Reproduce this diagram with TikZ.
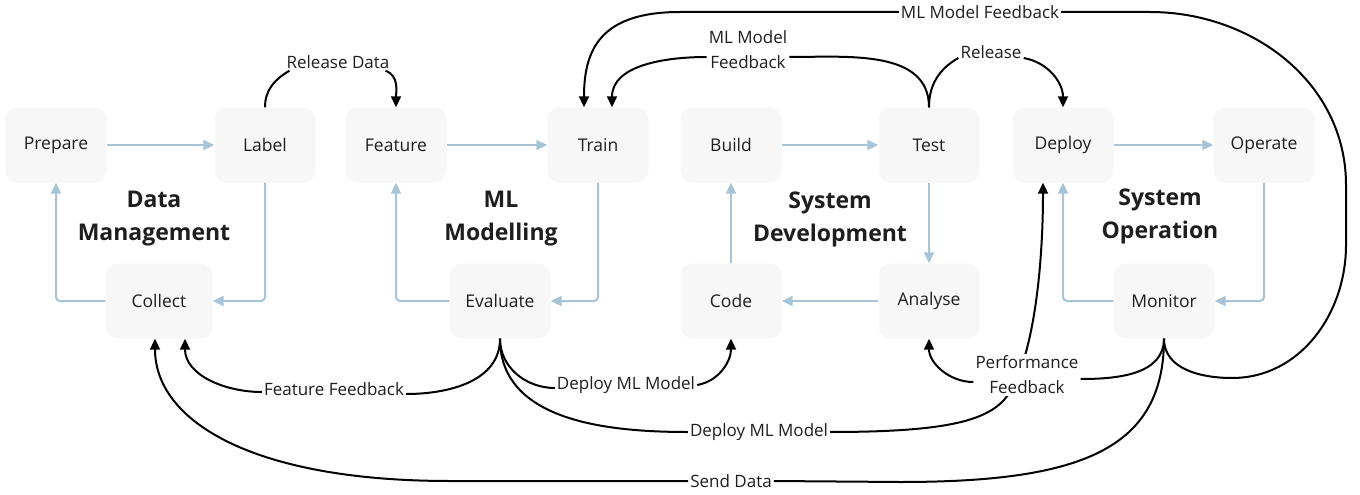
\documentclass[tikz,border=0pt]{standalone}
\usepackage{fontspec}
\setmainfont{Open Sans}
\usetikzlibrary{arrows.meta}
\pgfdeclarelayer{background}
\pgfsetlayers{background,main}
\definecolor{boxfill}{HTML}{F7F7F7}
\definecolor{flowc}{HTML}{A7C4D8}
\definecolor{txt}{HTML}{1E1E1E}
\begin{document}
\begin{tikzpicture}[x=1pt,y=-1pt,
 box/.style={rectangle, rounded corners=12pt, fill=boxfill, minimum width=101pt, minimum height=75pt, inner sep=0pt, text=txt, font=\fontsize{17.5}{20}\selectfont},
 title/.style={align=center, font=\fontsize{23}{33}\selectfont\bfseries, text=txt},
 lbl/.style={align=center, fill=white, inner sep=2pt, font=\fontsize{17}{25}\selectfont, text=txt},
 flow/.style={draw=flowc, line width=2pt, rounded corners=4pt, -{Triangle[length=11pt,width=10pt]}},
 fb/.style={draw=black, line width=2pt},
 fba/.style={fb, -{Triangle[length=11pt,width=10pt]}}]
\useasboundingbox (0,0) rectangle (1360,495);
\begin{pgfonlayer}{background}
\fill[white] (0,0) rectangle (1360,495);
\end{pgfonlayer}

% boxes
\node[box] (prepare) at (56,145) {Prepare};
\node[box] (label) at (265,145) {Label};
\node[box, minimum width=107pt] (collect) at (159,301) {Collect};
\node[box] (feature) at (396,145) {Feature};
\node[box] (train) at (598,145) {Train};
\node[box] (evaluate) at (500,301) {Evaluate};
\node[box] (build) at (731,145) {Build};
\node[box] (test) at (929,145) {Test};
\node[box] (code) at (731,301) {Code};
\node[box] (analyse) at (929,301) {Analyse};
\node[box] (deploy) at (1063,145) {Deploy};
\node[box] (operate) at (1264,145) {Operate};
\node[box] (monitor) at (1164,301) {Monitor};

% titles
\node[title] (t1) at (154,219) {Data\\Management};
\node[title] (t2) at (501,219) {ML\\Modelling};
\node[title] (t3) at (830,219) {System\\Development};
\node[title] (t4) at (1160,216) {System\\Operation};

% blue cycles
\draw[flow] (prepare.east) -- (label.west);
\draw[flow] (label.south) |- (collect.east);
\draw[flow] (collect.west) -| (prepare.south);
\draw[flow] (feature.east) -- (train.west);
\draw[flow] (train.south) |- (evaluate.east);
\draw[flow] (evaluate.west) -| (feature.south);
\draw[flow] (build.east) -- (test.west);
\draw[flow] (test.south) -- (analyse.north);
\draw[flow] (analyse.west) -- (code.east);
\draw[flow] (code.north) -- (build.south);
\draw[flow] (deploy.east) -- (operate.west);
\draw[flow] (operate.south) |- (monitor.east);
\draw[flow] (monitor.west) -| (deploy.south);

% edge labels
\node[lbl] (rd) at (338,62) {Release Data};
\node[lbl] (mm) at (748,50) {ML Model\\Feedback};
\node[lbl] (rel) at (991,52) {Release};
\node[lbl] (mmo) at (980,12) {ML Model Feedback};
\node[lbl] (pf) at (1027,375) {Performance\\Feedback};
\node[lbl] (ff) at (334,389) {Feature Feedback};
\node[lbl] (dml1) at (626,385) {Deploy ML Model};
\node[lbl] (dml2) at (759,432) {Deploy ML Model};
\node[lbl] (sd) at (731,481) {Send Data};

% black connectors
\draw[fb] (label.north) to[out=90,in=210] ([xshift=5pt]rd.south west);
\draw[fba] ([xshift=-6pt]rd.south east) to[out=-20,in=90] (feature.north);

\draw[fb] (test.north) to[out=90,in=0] ([yshift=-7pt]mm.east);
\draw[fba] ([yshift=-7pt]mm.west) to[out=180,in=90] ([xshift=14pt]train.north);

\draw[fb] (test.north) to[out=90,in=210] ([yshift=-6pt]rel.west);
\draw[fba] ([yshift=-6pt]rel.east) to[out=-10,in=90] (deploy.north);

\draw[fba] (mmo.west) -- (680,12) .. controls (600,12) and (584,50) .. ([xshift=-14pt]train.north);
\draw[fb] (monitor.south) to[out=-90,in=180] (1232,378) to[out=0,in=-90] (1346,245) -- (1346,185) to[out=90,in=0] (1150,12) -- (mmo.east);

\draw[fb] (monitor.south) to[out=-90,in=0] ([yshift=-4pt]pf.east);
\draw[fba] ([yshift=-7pt]pf.west) to[out=180,in=-90] (analyse.south);

\draw[fb] (monitor.south) .. controls (1164,450) and (1080,482) .. (900,482) -- (sd.east);
\draw[fba] (sd.west) -- (450,481) .. controls (250,481) and (155,420) .. ([xshift=-4pt]collect.south);

\draw[fb] (evaluate.south) to[out=-90,in=0] ([yshift=-5pt]ff.east);
\draw[fba] ([yshift=-3pt]ff.west) to[out=180,in=-90] ([xshift=26pt]collect.south);

\draw[fb] (evaluate.south) to[out=-90,in=180] ([yshift=-3pt]dml1.west);
\draw[fba] (dml1.east) to[out=10,in=-90] (code.south);

\draw[fb] (evaluate.south) to[out=-90,in=180] (dml2.west);
\begin{pgfonlayer}{background}
\draw[fba] (dml2.east) .. controls (950,432) and (990,420) .. (1008,395) .. controls (1035,355) and (1043,260) .. ([xshift=-20pt]deploy.south);
\end{pgfonlayer}
\end{tikzpicture}
\end{document}
